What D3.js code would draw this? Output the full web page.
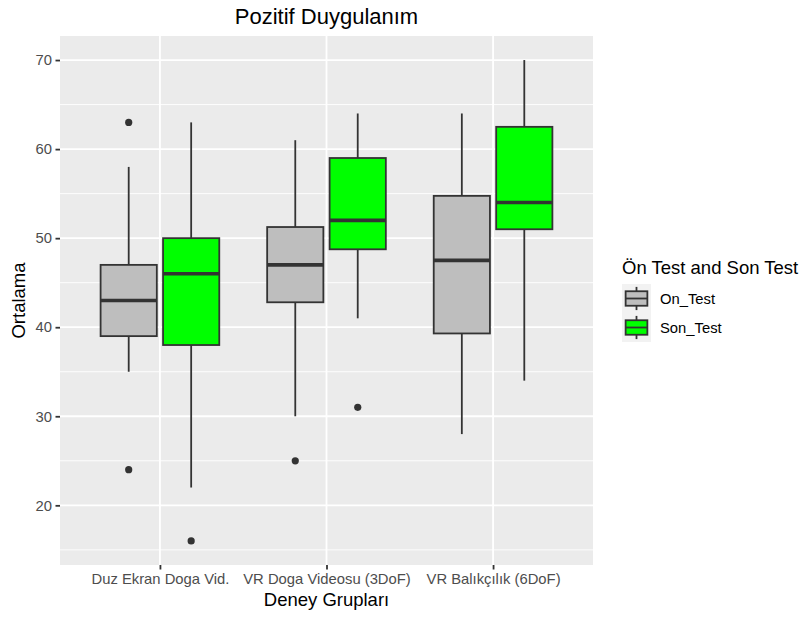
<!DOCTYPE html>
<html>
<head>
<meta charset="utf-8">
<script src="https://cdn.jsdelivr.net/npm/d3@7"></script>
<style>
  body { margin: 0; background: #ffffff; }
  text { font-family: "Liberation Sans", Arial, Helvetica, sans-serif; }
</style>
</head>
<body>
<script>
// Data
var groups = ["Duz Ekran Doga Vid.", "VR Doga Videosu (3DoF)", "VR Balıkçılık (6DoF)"]
var tests = ["On_Test", "Son_Test"]
var testColours = ["#BEBEBE", "#00FF00"]

var onLow = [35, 30, 28]
var onQ1 = [39, 42.8, 39.3]
var onMedian = [43, 47, 47.5]
var onQ3 = [47, 51.25, 54.75]
var onHigh = [58, 61, 64]
var onOutliers = [[63, 24], [25], []]

var sonLow = [22, 41, 34]
var sonQ1 = [38, 48.75, 51]
var sonMedian = [46, 52, 54]
var sonQ3 = [50, 59, 62.5]
var sonHigh = [63, 64, 70]
var sonOutliers = [[16], [31], []]

var yTicks = [20, 30, 40, 50, 60, 70]
var yMinor = [15, 25, 35, 45, 55, 65]

// Layout
var width = 809, height = 617
var panel = {left: 60, right: 593, top: 36, bottom: 565}

var svg = d3.select("body")
    .append("svg")
    .attr("width", width)
    .attr("height", height)

// Scales
var x = d3.scalePoint()
    .domain(groups)
    .range([panel.left, panel.right])
    .padding(0.6)
var step = x.step()

var dodge = d3.scaleBand()
    .domain(tests)
    .range([-0.375 * step, 0.375 * step])
    .paddingInner(0.1)
    .paddingOuter(0.05)

var y = d3.scaleLinear()
    .domain([13.3, 72.7])
    .range([panel.bottom, panel.top])

// Panel background + grid
svg.append("rect")
    .attr("x", panel.left)
    .attr("y", panel.top)
    .attr("width", panel.right - panel.left)
    .attr("height", panel.bottom - panel.top)
    .attr("fill", "#EBEBEB")

svg.selectAll(".minor")
    .data(yMinor)
    .enter()
    .append("line")
        .attr("x1", panel.left)
        .attr("x2", panel.right)
        .attr("y1", (d) => y(d))
        .attr("y2", (d) => y(d))
        .attr("stroke", "#ffffff")
        .attr("stroke-width", 0.9)

svg.selectAll(".major")
    .data(yTicks)
    .enter()
    .append("line")
        .attr("x1", panel.left)
        .attr("x2", panel.right)
        .attr("y1", (d) => y(d))
        .attr("y2", (d) => y(d))
        .attr("stroke", "#ffffff")
        .attr("stroke-width", 1.8)

svg.selectAll(".vmajor")
    .data(groups)
    .enter()
    .append("line")
        .attr("x1", (d) => x(d))
        .attr("x2", (d) => x(d))
        .attr("y1", panel.top)
        .attr("y2", panel.bottom)
        .attr("stroke", "#ffffff")
        .attr("stroke-width", 1.8)

// Build box records
var boxes = []
groups.forEach((g, i) => {
    boxes.push({group: g, test: tests[0], fill: testColours[0], low: onLow[i], q1: onQ1[i], med: onMedian[i], q3: onQ3[i], high: onHigh[i], out: onOutliers[i]})
    boxes.push({group: g, test: tests[1], fill: testColours[1], low: sonLow[i], q1: sonQ1[i], med: sonMedian[i], q3: sonQ3[i], high: sonHigh[i], out: sonOutliers[i]})
})

var bw = dodge.bandwidth()
var boxG = svg.selectAll(".box")
    .data(boxes)
    .enter()
    .append("g")
        .attr("transform", (d) => "translate(" + (x(d.group) + dodge(d.test)) + ",0)")

// whiskers
boxG.append("line")
    .attr("x1", bw / 2).attr("x2", bw / 2)
    .attr("y1", (d) => y(d.high)).attr("y2", (d) => y(d.q3))
    .attr("stroke", "#333333").attr("stroke-width", 1.8)
boxG.append("line")
    .attr("x1", bw / 2).attr("x2", bw / 2)
    .attr("y1", (d) => y(d.q1)).attr("y2", (d) => y(d.low))
    .attr("stroke", "#333333").attr("stroke-width", 1.8)

// box
boxG.append("rect")
    .attr("x", 0)
    .attr("width", bw)
    .attr("y", (d) => y(d.q3))
    .attr("height", (d) => y(d.q1) - y(d.q3))
    .attr("fill", (d) => d.fill)
    .attr("stroke", "#333333")
    .attr("stroke-width", 1.8)

// median
boxG.append("line")
    .attr("x1", 0).attr("x2", bw)
    .attr("y1", (d) => y(d.med)).attr("y2", (d) => y(d.med))
    .attr("stroke", "#333333").attr("stroke-width", 3.6)

// outliers
boxG.selectAll("circle")
    .data((d) => d.out)
    .enter()
    .append("circle")
        .attr("cx", bw / 2)
        .attr("cy", (d) => y(d))
        .attr("r", 3.6)
        .attr("fill", "#333333")

// Axes
var yAxis = svg.append("g")
    .attr("transform", "translate(" + panel.left + ",0)")
    .call(d3.axisLeft(y).tickValues(yTicks).tickSize(4.5).tickPadding(3.5))
var xAxis = svg.append("g")
    .attr("transform", "translate(0," + panel.bottom + ")")
    .call(d3.axisBottom(x).tickSize(4.5).tickPadding(3.5))

;[xAxis, yAxis].forEach((ax) => {
    ax.select(".domain").remove()
    ax.selectAll(".tick line").attr("stroke", "#333333").attr("stroke-width", 1.8)
    ax.selectAll(".tick text")
        .attr("fill", "#4D4D4D")
        .style("font-size", "14.8px")
        .style("font-family", "Liberation Sans, Arial, sans-serif")
})

// Titles
svg.append("text")
    .attr("x", (panel.left + panel.right) / 2)
    .attr("y", 24)
    .attr("text-anchor", "middle")
    .style("font-size", "22px")
    .text("Pozitif Duygulanım")

svg.append("text")
    .attr("x", (panel.left + panel.right) / 2)
    .attr("y", 606)
    .attr("text-anchor", "middle")
    .style("font-size", "18.5px")
    .text("Deney Grupları")

svg.append("text")
    .attr("transform", "translate(25," + ((panel.top + panel.bottom) / 2) + ") rotate(-90)")
    .attr("text-anchor", "middle")
    .style("font-size", "18.5px")
    .text("Ortalama")

// Legend
var legend = svg.append("g").attr("transform", "translate(622,0)")
legend.append("text")
    .attr("x", 0)
    .attr("y", 274)
    .style("font-size", "18.5px")
    .text("Ön Test and Son Test")

var key = 29
var keys = legend.selectAll(".key")
    .data(tests)
    .enter()
    .append("g")
        .attr("transform", (d, i) => "translate(0," + (284 + i * key) + ")")

keys.append("rect")
    .attr("width", key).attr("height", key)
    .attr("fill", "#F2F2F2")
keys.append("line")
    .attr("x1", key / 2).attr("x2", key / 2)
    .attr("y1", key * 0.1).attr("y2", key * 0.9)
    .attr("stroke", "#333333").attr("stroke-width", 1.8)
keys.append("rect")
    .attr("x", key * 0.125).attr("width", key * 0.75)
    .attr("y", key * 0.25).attr("height", key * 0.5)
    .attr("fill", (d, i) => testColours[i])
    .attr("stroke", "#333333").attr("stroke-width", 1.8)
keys.append("line")
    .attr("x1", key * 0.125).attr("x2", key * 0.875)
    .attr("y1", key / 2).attr("y2", key / 2)
    .attr("stroke", "#333333").attr("stroke-width", 1.8)
keys.append("text")
    .attr("x", key + 9)
    .attr("y", key / 2)
    .attr("dy", "0.35em")
    .style("font-size", "14.8px")
    .text((d) => d)
</script>
</body>
</html>
